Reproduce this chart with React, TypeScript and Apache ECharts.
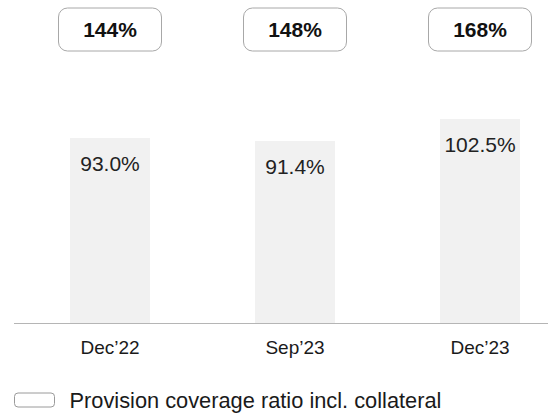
import React, { useEffect, useRef } from "react";
import * as echarts from "echarts";

const categories = ["Dec\u201922", "Sep\u201923", "Dec\u201923"];
const coverageValues = [93.0, 91.4, 102.5];
const inclCollateralValues = [144, 148, 168];
const seriesName = "Provision coverage ratio incl. collateral";

const FONT = "'Liberation Sans', Arial, Helvetica, sans-serif";

export default function App() {
  const ref = useRef<HTMLDivElement>(null);
  useEffect(() => {
    if (!ref.current) return;
    const chart = echarts.init(ref.current, null, { renderer: "svg" });
    chart.setOption({
      animation: false,
      backgroundColor: "#ffffff",
      grid: { left: 110, right: 68, top: 24.5, bottom: 91, containLabel: false },
      xAxis: {
        type: "category",
        data: categories,
        boundaryGap: false,
        axisLine: { show: false },
        axisTick: { show: false },
        splitLine: { show: false },
        axisLabel: {
          color: "#1a1a1a",
          fontSize: 19,
          fontFamily: FONT,
          margin: 15,
        },
      },
      yAxis: {
        type: "value",
        min: 0,
        max: 150,
        show: false,
        splitLine: { show: false },
      },
      graphic: [
        {
          type: "line",
          shape: { x1: 14, y1: 323.5, x2: 548, y2: 323.5 },
          style: { stroke: "#b5b5b5", lineWidth: 1 },
          z: 10,
        },
      ],
      legend: {
        show: true,
        left: 14,
        top: 389,
        padding: 0,
        icon: "roundRect",
        itemWidth: 40,
        itemHeight: 14,
        textStyle: { fontSize: 21.8, color: "#1a1a1a", fontFamily: FONT, padding: [0, 0, 0, 10] },
        data: [
          {
            name: seriesName,
            itemStyle: { color: "#ffffff", borderColor: "#9a9a9a", borderWidth: 1 },
          },
        ],
      },
      series: [
        {
          name: seriesName,
          type: "bar",
          data: coverageValues,
          barWidth: 80,
          itemStyle: { color: "#f1f1f1" },
          label: {
            show: true,
            position: "insideTop",
            distance: 15,
            formatter: (p: any) => Number(p.value).toFixed(1) + "%",
            fontSize: 21,
            color: "#222222",
            fontFamily: FONT,
          },
        },
        {
          type: "custom",
          clip: false,
          silent: true,
          data: inclCollateralValues.map((v, i) => [i, 0, v]),
          encode: { x: 0, y: 1 },
          renderItem: (params: any, api: any) => {
            const x = api.coord([api.value(0), 0])[0];
            const v = api.value(2);
            const w = 103;
            const h = 43;
            return {
              type: "group",
              children: [
                {
                  type: "rect",
                  shape: { x: x - w / 2, y: 8, width: w, height: h, r: 9 },
                  style: { fill: "#ffffff", stroke: "#a8a8a8", lineWidth: 1 },
                },
                {
                  type: "text",
                  x: x,
                  y: 8 + h / 2,
                  style: {
                    text: v + "%",
                    fontSize: 21,
                    fontWeight: "bold",
                    fontFamily: FONT,
                    fill: "#111111",
                    align: "center",
                    verticalAlign: "middle",
                  },
                },
              ],
            };
          },
        },
      ],
    });
    return () => chart.dispose();
  }, []);
  return (
    <div
      ref={ref}
      style={{ position: "fixed", left: 0, top: 0, width: 548, height: 414 }}
    />
  );
}
